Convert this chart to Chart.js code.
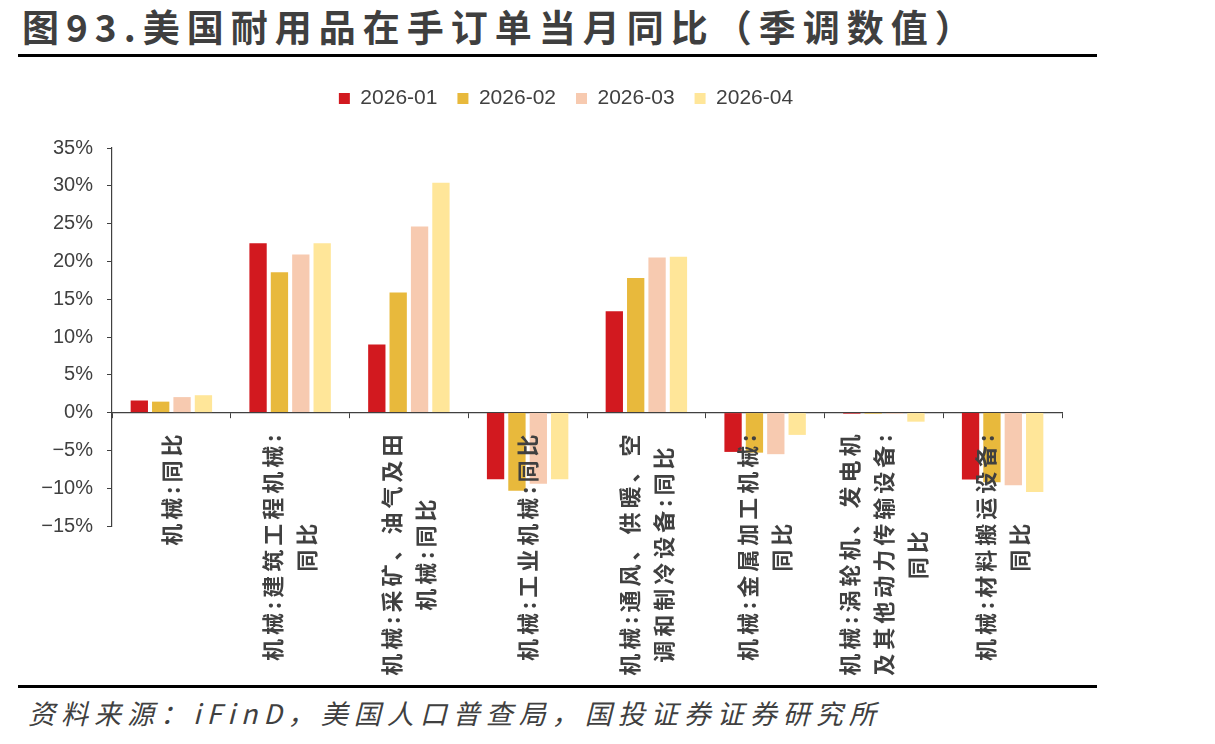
<!DOCTYPE html>
<html lang="zh">
<head>
    <meta charset="UTF-8">
    <title>图93</title>
    <script src="https://cdn.jsdelivr.net/npm/chart.js"></script>
    <style>
        body {
            margin: 0;
            width: 1215px;
            height: 744px;
            background: #fff;
            position: relative;
            overflow: hidden;
            font-family: "Noto Sans CJK SC", sans-serif;
            color: #404040;
        }
        .title {
            position: absolute;
            left: 22px;
            top: -1px;
            font-size: 37px;
            font-weight: 700;
            letter-spacing: 7px;
            white-space: nowrap;
            color: #3f3f3f;
        }
        .rule {
            position: absolute;
            left: 18px;
            width: 1079px;
            height: 3px;
            background: #000;
        }
        .source {
            position: absolute;
            left: 28px;
            top: 693px;
            font-size: 27px;
            font-style: italic;
            letter-spacing: 6px;
            white-space: nowrap;
            color: #404040;
        }
        .chart-box {
            position: absolute;
            left: 0;
            top: 60px;
            width: 1122px;
            height: 620px;
        }
    </style>
</head>
<body>
    <div class="title">图93.美国耐用品在手订单当月同比（季调数值）</div>
    <div class="rule" style="top:54px"></div>
    <div class="chart-box"><canvas id="chart"></canvas></div>
    <div class="rule" style="top:685px"></div>
    <div class="source">资料来源：iFinD，美国人口普查局，国投证券证券研究所</div>

    <script>
        // categories (each entry = lines of the rotated label)
        const categories = [
            ['机械:同比'],
            ['机械:建筑工程机械:', '同比'],
            ['机械:采矿、油气及田', '机械:同比'],
            ['机械:工业机械:同比'],
            ['机械:通风、供暖、空', '调和制冷设备:同比'],
            ['机械:金属加工机械:', '同比'],
            ['机械:涡轮机、发电机', '及其他动力传输设备:', '同比'],
            ['机械:材料搬运设备:', '同比']
        ];
        const seriesNames = ['2026-01', '2026-02', '2026-03', '2026-04'];
        const jan = [1.6, 22.4, 9.0, -8.8, 13.4, -5.2, -0.15, -8.85];
        const feb = [1.45, 18.55, 15.9, -10.35, 17.8, -5.3, -0.15, -9.2];
        const mar = [2.05, 20.9, 24.6, -9.4, 20.5, -5.5, -0.15, -9.6];
        const apr = [2.3, 22.4, 30.4, -8.8, 20.6, -2.95, -1.2, -10.5];
        const colors = ['#D2191F', '#E8B93C', '#F7CAB0', '#FFE699'];

        const textColor = '#404040';

        // extra room under the legend, and legend centred over the plot
        const legendPlace = {
            id: 'legendPlace',
            beforeInit(chart) {
                const fit = chart.legend.fit;
                chart.legend.fit = function () {
                    fit.call(this);
                    this.height += 29;
                };
            },
            afterLayout(chart) {
                chart.legend.left += 35;
                chart.legend.right += 35;
            }
        };

        // rotated, centre-aligned multi-line category labels
        const xLabels = {
            id: 'xLabels',
            afterDraw(chart) {
                const ctx = chart.ctx;
                const x = chart.scales.x;
                const y = chart.scales.y;
                const top = y.getPixelForValue(0) + 18;
                const lineGap = 34;
                ctx.save();
                ctx.font = '700 22px "Noto Sans CJK SC"';
                ctx.letterSpacing = '4px';
                ctx.fillStyle = textColor;
                ctx.textAlign = 'center';
                ctx.textBaseline = 'middle';
                categories.forEach((lines, i) => {
                    const cx = x.getPixelForValue(i);
                    const maxW = Math.max(...lines.map(l => ctx.measureText(l).width));
                    lines.forEach((line, j) => {
                        const lx = cx + (j - (lines.length - 1) / 2) * lineGap;
                        ctx.save();
                        ctx.translate(lx, top + maxW / 2);
                        ctx.rotate(-Math.PI / 2);
                        ctx.fillText(line, 0, 0);
                        ctx.restore();
                    });
                });
                ctx.restore();
            }
        };

        new Chart(document.getElementById('chart'), {
            type: 'bar',
            data: {
                labels: categories.map(c => c.join('')),
                datasets: [jan, feb, mar, apr].map((d, i) => ({
                    label: seriesNames[i],
                    data: d,
                    backgroundColor: colors[i],
                    borderWidth: 0,
                    barPercentage: 0.81,
                    categoryPercentage: 0.72
                }))
            },
            options: {
                responsive: true,
                maintainAspectRatio: false,
                animation: false,
                layout: {
                    padding: { left: 0, right: 60, top: 8, bottom: 154 }
                },
                plugins: {
                    legend: {
                        position: 'top',
                        labels: {
                            boxWidth: 11,
                            boxHeight: 11,
                            padding: 20,
                            color: textColor,
                            font: { family: '"Liberation Sans"', size: 21 }
                        }
                    },
                    tooltip: { enabled: false }
                },
                scales: {
                    x: {
                        position: { y: 0 },
                        grid: {
                            display: true,
                            drawOnChartArea: false,
                            offset: true,
                            tickLength: 5,
                            color: textColor
                        },
                        border: { color: textColor, width: 1.2 },
                        ticks: { display: false }
                    },
                    y: {
                        min: -15,
                        max: 35,
                        afterFit(scale) { scale.width = 112; },
                        grid: {
                            drawOnChartArea: false,
                            tickLength: 5,
                            color: textColor
                        },
                        border: { color: textColor, width: 1.2 },
                        ticks: {
                            stepSize: 5,
                            padding: 14,
                            color: textColor,
                            font: { family: '"Liberation Sans"', size: 20 },
                            callback: v => (v < 0 ? '\u2212' + Math.abs(v) : v) + '%'
                        }
                    }
                }
            },
            plugins: [legendPlace, xLabels]
        });
    </script>
</body>
</html>
